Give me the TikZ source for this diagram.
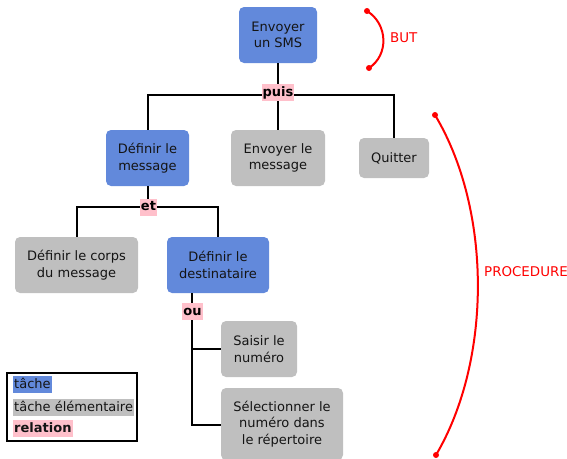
\documentclass[tikz,border=0pt]{standalone}
\usepackage{fontspec}
\setmainfont{DejaVu Sans}
\definecolor{taskblue}{RGB}{98,137,219}
\definecolor{elemgray}{RGB}{191,191,191}
\definecolor{relpink}{RGB}{255,192,203}
\definecolor{txt}{RGB}{20,20,20}
\begin{document}
\begin{tikzpicture}[x=1pt,y=-1pt,
  font=\fontsize{13}{16.5}\selectfont,
  box/.style={rounded corners=5pt, align=center, inner sep=0pt, text=txt},
  task/.style={box, fill=taskblue},
  elem/.style={box, fill=elemgray},
  rel/.style={fill=relpink, font=\fontsize{13}{16.5}\selectfont\bfseries, inner xsep=1pt, inner ysep=1pt, text height=11pt, text depth=4pt},
  legitem/.style={anchor=west, inner xsep=1pt, inner ysep=1pt, text height=11pt, text depth=4pt, text=txt},
  conn/.style={line width=2pt},
  redarc/.style={red, line width=2pt},
  reddot/.style={circle, fill=red, inner sep=0pt, minimum size=6pt},
  redlabel/.style={text=red, font=\fontsize{13.4}{15}\selectfont}]
\useasboundingbox (0,0) rectangle (567,458);

% nodes
\node[task, minimum width=78pt, minimum height=56pt] (sms) at (278,35) {Envoyer\\un SMS};
\node[task, minimum width=83pt, minimum height=56pt] (defmsg) at (147.5,158) {Définir le\\message};
\node[elem, minimum width=94pt, minimum height=56pt] (envmsg) at (278,158) {Envoyer le\\message};
\node[elem, minimum width=70pt, minimum height=40pt] (quit) at (394,158) {Quitter};
\node[elem, minimum width=123pt, minimum height=56pt] (corps) at (76.5,265) {Définir le corps\\du message};
\node[task, minimum width=102pt, minimum height=56pt] (dest) at (218,265) {Définir le\\destinataire};
\node[elem, minimum width=76pt, minimum height=56pt] (saisir) at (259,349) {Saisir le\\numéro};
\node[elem, minimum width=122pt, minimum height=72pt] (select) at (282,424) {Sélectionner le\\numéro dans\\le répertoire};

% junction coordinates
\coordinate (j1) at (278,95);
\coordinate (j2) at (147.5,207);
\coordinate (j3top) at (192,293);
\coordinate (j3a) at (192,349);
\coordinate (j3b) at (192,425);

% connectors
\draw[conn] (sms.south) -- (j1);
\draw[conn] (defmsg.north) |- (j1) -| (quit.north);
\draw[conn] (j1) -- (envmsg.north);
\draw[conn] (defmsg.south) -- (j2);
\draw[conn] (corps.north) |- (j2) -| (dest.north);
\draw[conn] (j3top) -- (j3b) -- (j3b -| select.west);
\draw[conn] (j3a) -- (saisir.west);

% relation labels
\node[rel] (puis) at (278,92.5) {puis};
\node[rel] (et) at (148.5,207) {et};
\node[rel] (ou) at (192.5,311.5) {ou};

% BUT arc
\node[reddot] (b1) at (367,11) {};
\node[reddot] (b2) at (369,68) {};
\draw[redarc] (b1.center) .. controls (388,24) and (389,55) .. (b2.center);
\node[redlabel, anchor=west, inner sep=0pt] (but) at (390,38) {BUT};

% PROCEDURE arc
\node[reddot] (p1) at (435,115) {};
\node[reddot] (p2) at (436,455) {};
\draw[redarc] (p1.center) .. controls (492,210) and (492,360) .. (p2.center);
\node[redlabel, anchor=west, inner sep=0pt] (proc) at (484,272) {PROCEDURE};

% legend
\node[draw=black, line width=2pt, minimum width=130pt, minimum height=68pt, inner sep=0pt] (legend) at (72,407) {};
\node[legitem, fill=taskblue] (l1) at (13,384.5) {tâche};
\node[legitem, fill=elemgray] (l2) at (13,407.5) {tâche élémentaire};
\node[legitem, fill=relpink, font=\fontsize{13}{16.5}\selectfont\bfseries] (l3) at (13,428.5) {relation};
\end{tikzpicture}
\end{document}
